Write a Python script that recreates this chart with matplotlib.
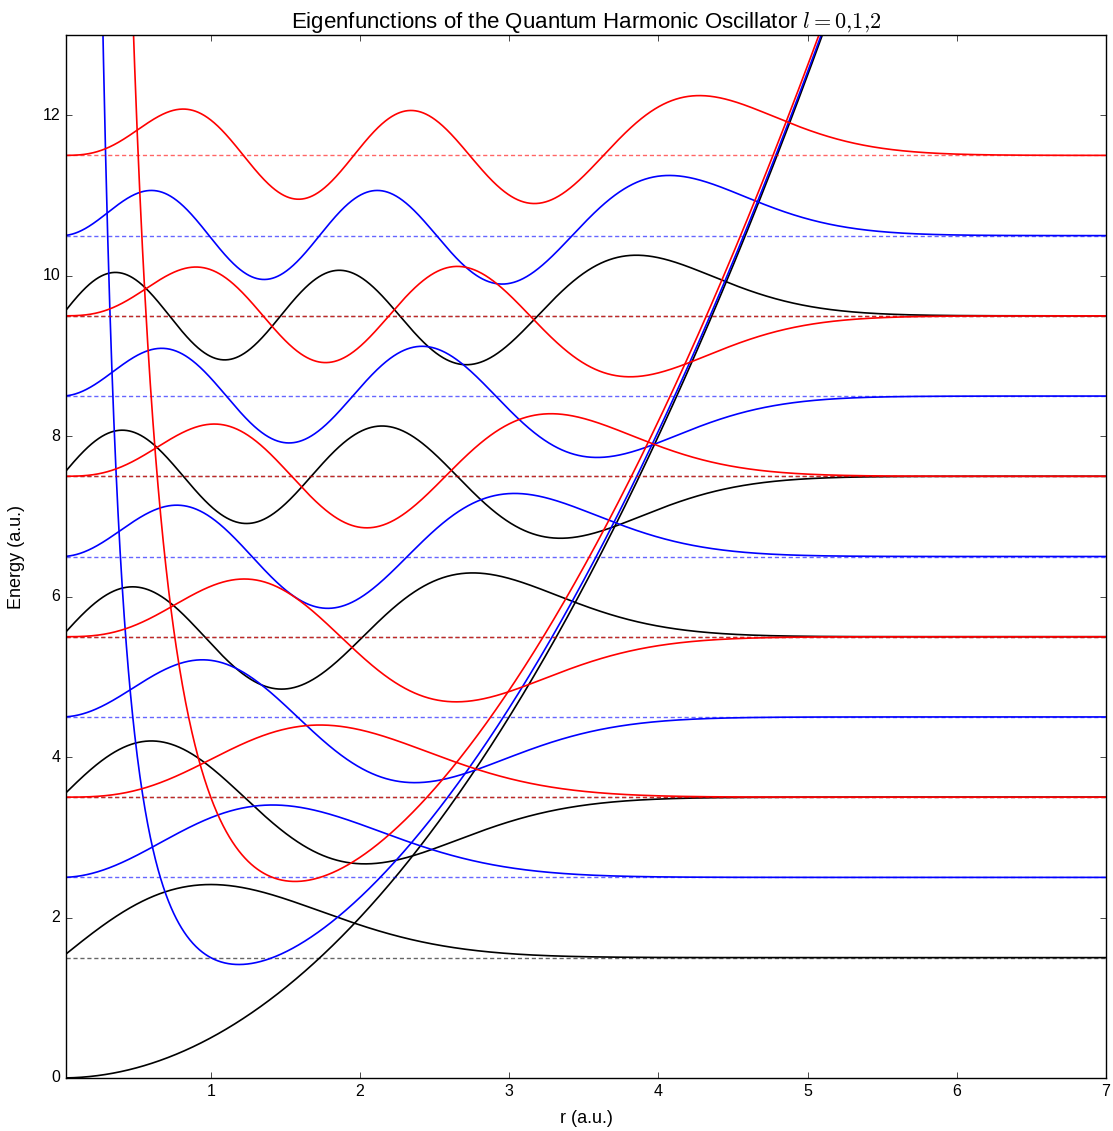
import numpy as np
from matplotlib import pyplot as plt

plt.style.use('classic')
plt.rcParams['font.family'] = ['Liberation Sans', 'DejaVu Sans']
plt.rcParams['mathtext.fontset'] = 'cm'

# Quantum numbers and energy levels (a.u.)
l_values = [0, 1, 2]
colors = ['black', 'blue', 'red']
levels = {
    0: [1.5, 3.5, 5.5, 7.5, 9.5],
    1: [2.5, 4.5, 6.5, 8.5, 10.5],
    2: [3.5, 5.5, 7.5, 9.5, 11.5],
}

r = np.linspace(0.03, 7.0, 2000)


def laguerre(n, alpha, x):
    # generalized Laguerre polynomial by recurrence
    prev = np.ones_like(x)
    if n == 0:
        return prev
    cur = 1 + alpha - x
    for k in range(1, n):
        prev, cur = cur, ((2*k + 1 + alpha - x)*cur - (k + alpha)*prev)/(k + 1)
    return cur


fig = plt.figure(figsize=(11.13, 11.31), dpi=100)
ax = fig.add_axes([0.0593, 0.0469, 0.9344, 0.9221])

for l, c in zip(l_values, colors):
    # effective potential
    V = 0.5*r**2 + l*(l + 1)/(2*r**2)
    ax.plot(r, V, color=c, lw=1.2)
    for n, E in enumerate(levels[l]):
        u = r**(l + 1)*np.exp(-r**2/2)*laguerre(n, l + 0.5, r**2)
        u = u/np.sqrt(np.trapezoid(u**2, r))
        ax.axhline(E, color=c, lw=1.0, alpha=0.6, linestyle=(0, (3, 2)))
        ax.plot(r, E + u, color=c, lw=1.2)

ax.set_xlim(r.min(), r.max())
ax.set_ylim(0, 13)
ax.set_xticks([1, 2, 3, 4, 5, 6, 7])
ax.set_yticks([0, 2, 4, 6, 8, 10, 12])
ax.tick_params(labelsize=11.5)
ax.set_xlabel('r (a.u.)', fontsize=13)
ax.set_ylabel('Energy (a.u.)', fontsize=13)
ax.xaxis.set_label_coords(0.5, -0.031)
ax.yaxis.set_label_coords(-0.039, 0.5)
ax.set_title('Eigenfunctions of the Quantum Harmonic Oscillator $l=0{,}1{,}2$', fontsize=16)

fig.savefig('out.png', dpi=100)
